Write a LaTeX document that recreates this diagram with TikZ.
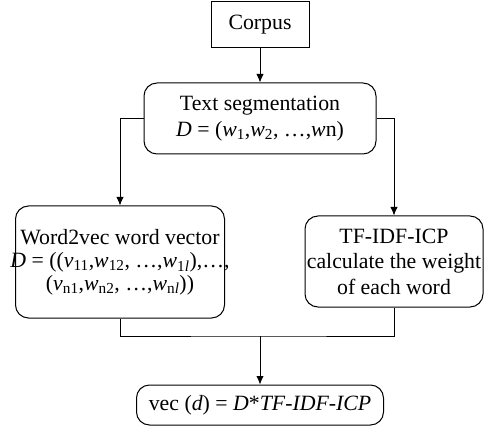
\documentclass[tikz,border=0pt]{standalone}
\usepackage{fontspec}
\setmainfont{Liberation Serif}
\usetikzlibrary{arrows.meta}

\tikzset{
  box/.style={draw, line width=1pt, inner sep=0pt, align=center,
    font=\fontsize{21.8}{25.5}\selectfont},
  roundbox/.style={box, rounded corners=13pt},
  link/.style={line width=1pt},
  arrowlink/.style={link, -{Latex[length=8.5pt,width=7.5pt]}}
}

\newcommand{\sbs}[1]{\textsubscript{#1}}

\begin{document}
\begin{tikzpicture}[x=1pt, y=-1pt]
  \useasboundingbox (0,0) rectangle (484,430);

  \node[box, minimum width=98pt, minimum height=46pt] (corpus) at (260,25) {Corpus};

  \node[roundbox, minimum width=232pt, minimum height=71pt] (seg) at (260,118.5)
    {Text segmentation\\ \textit{D} = (\textit{w}\sbs{1},\textit{w}\sbs{2}, …,\textit{w}n)};

  % the middle line is allowed to run past the frame on both sides
  \node[roundbox, minimum width=209pt, minimum height=112pt] (w2v) at (120,262)
    {Word2vec word vector\\[-2pt]
     \makebox[180pt][c]{\textit{D} = ((\textit{v}\sbs{11},\textit{w}\sbs{12}, …,\textit{w}\sbs{1\textit{l}}),…,}\\[-3pt]
     (\textit{v}\sbs{n1},\textit{w}\sbs{n2}, …,\textit{w}\sbs{n\textit{l}}))};

  \node[roundbox, minimum width=178pt, minimum height=91pt] (tfidf) at (394,261.5)
    {TF-IDF-ICP\\ calculate the weight\\ of each word};

  \node[roundbox, minimum width=247pt, minimum height=40pt] (out) at (260,405)
    {vec (\textit{d}) = \textit{D}*\textit{TF-IDF-ICP}};

  % Corpus feeds the segmentation step
  \draw[arrowlink] (corpus.south) -- (seg.north);

  % Segmentation splits into the two branches
  \draw[arrowlink] (seg.west) -| (w2v.north);
  \draw[arrowlink] (seg.east) -| (tfidf.north);

  % Both branches merge into the final vector
  \coordinate (merge) at (260,336);
  \draw[link] (w2v.south) |- (merge) -| (tfidf.south);
  \draw[arrowlink] (merge) -- (out.north);
\end{tikzpicture}
\end{document}
